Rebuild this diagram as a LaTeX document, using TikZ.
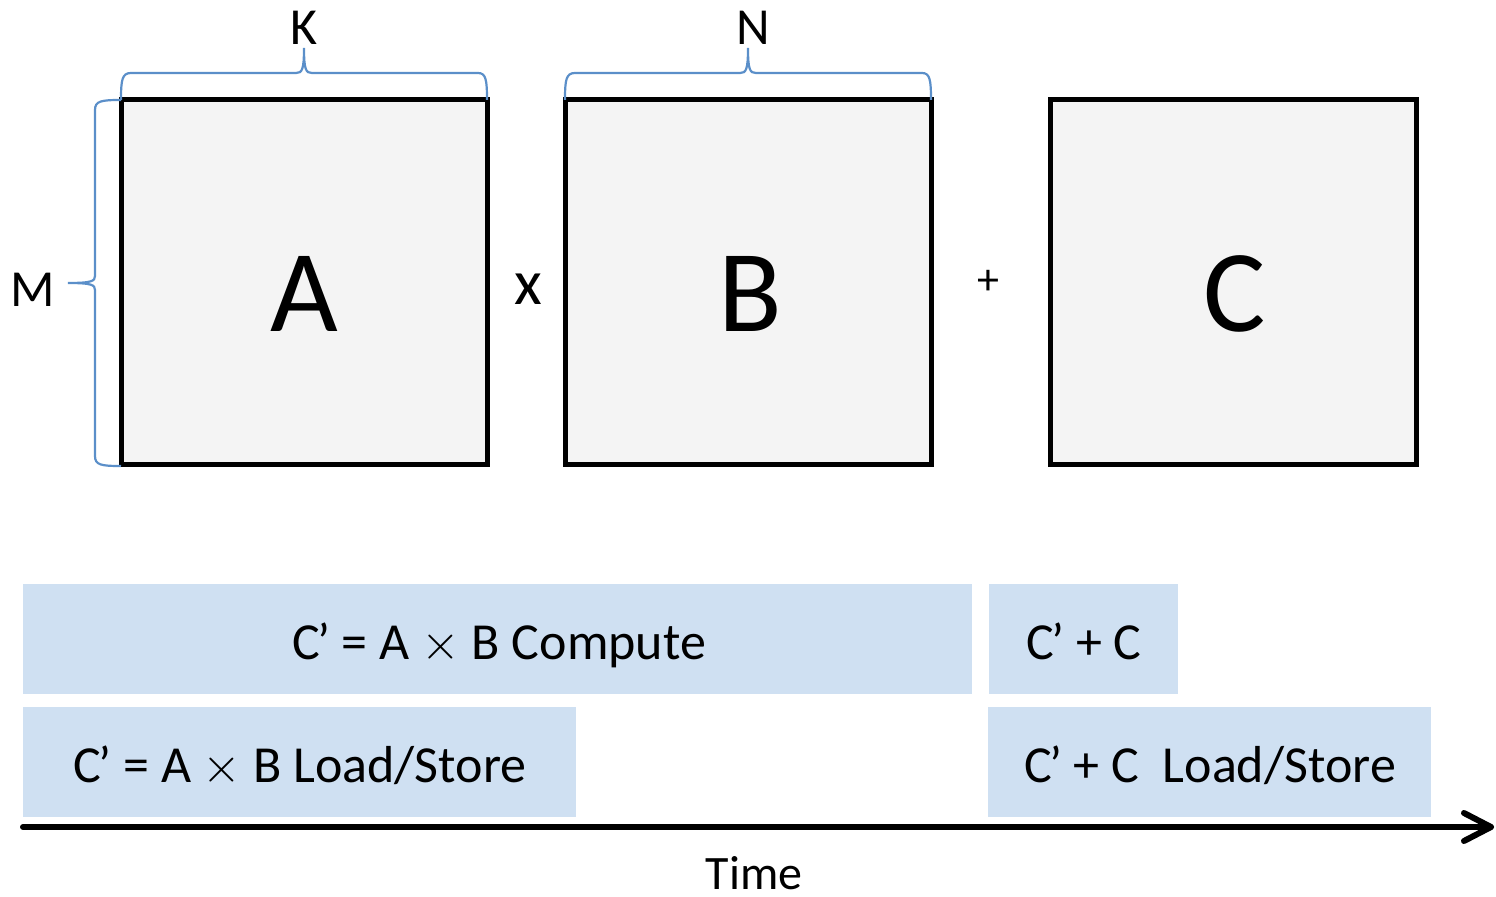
\documentclass[tikz,border=0pt]{standalone}
\usepackage{fontspec}
\setmainfont{Carlito}
\usetikzlibrary{arrows.meta}

\definecolor{matfill}{HTML}{F4F4F4}
\definecolor{barfill}{HTML}{CFE0F2}
\definecolor{bracecol}{HTML}{5B8FC9}

\newcommand\Cpr{C\kern-0.05em’}
\newcommand\mtimes{\ensuremath{\times}}

\tikzset{
  matrixbox/.style={draw=black, line width=2.5pt, fill=matfill, rectangle,
    minimum width=183pt, minimum height=182.5pt, inner sep=0pt, anchor=center},
  bigletter/.style={font=\fontsize{58.5}{60}\selectfont, inner sep=0pt, anchor=base},
  dimlabel/.style={font=\fontsize{26}{28}\selectfont, inner sep=0pt, anchor=base},
  opsign/.style={inner sep=0pt},
  phasebar/.style={fill=barfill, draw=none, rectangle, inner sep=0pt, anchor=north west},
  phasetext/.style={font=\fontsize{26}{28}\selectfont, inner sep=0pt, anchor=base},
  timetext/.style={font=\fontsize{24}{26}\selectfont, inner sep=0pt, anchor=base},
  bracepath/.style={draw=bracecol, line width=1.1pt},
  timeaxis/.style={line width=3pt, line cap=round, line join=round},
}

\begin{document}
\begin{tikzpicture}[x=0.5pt, y=-0.5pt]
  \useasboundingbox (0,0) rectangle (1496,897);

  % matrices
  \node[matrixbox] (A) at (304,282.5) {};
  \node[matrixbox] (B) at (748,282.5) {};
  \node[matrixbox] (C) at (1233,282.5) {};
  \node[bigletter] (Aname) at (304,332) {A};
  \node[bigletter] (Bname) at (750,332) {B};
  \node[bigletter] (Cname) at (1235,332) {C};

  % operators
  \node[opsign, font=\fontsize{32}{34}\selectfont, anchor=base] (times) at (528,305) {x};
  \node[opsign, font=\fontsize{22}{24}\selectfont] (plus) at (988,282) {+};

  % dimension braces
  \draw[bracepath] (121,100) .. controls (121,80) and (122,73) .. (131,73)
     -- (296,73) .. controls (302,73) and (304,70) .. (304,48)
     .. controls (304,70) and (306,73) .. (312,73)
     -- (478,73) .. controls (486,73) and (487,80) .. (487,100);
  \draw[bracepath] (565,100) .. controls (565,80) and (566,73) .. (575,73)
     -- (740,73) .. controls (746,73) and (748,70) .. (748,48)
     .. controls (748,70) and (750,73) .. (756,73)
     -- (922,73) .. controls (930,73) and (931,80) .. (931,100);
  \draw[bracepath] (121,100) .. controls (101,100) and (95,101) .. (95,110)
     -- (95,276) .. controls (95,281) and (92,283) .. (68,283)
     .. controls (92,283) and (95,285) .. (95,290)
     -- (95,456) .. controls (95,465) and (101,466) .. (121,466);
  \node[dimlabel] (K) at (304,45) {K};
  \node[dimlabel] (N) at (753,45) {N};
  \node[dimlabel] (M) at (33,307) {M};

  % timeline phases
  \node[phasebar, minimum width=474.5pt, minimum height=55pt] (mulc) at (23,584) {};
  \node[phasebar, minimum width=94.5pt, minimum height=55pt] (addc) at (989,584) {};
  \node[phasebar, minimum width=276.5pt, minimum height=55pt] (mulls) at (23,707) {};
  \node[phasebar, minimum width=221.5pt, minimum height=55pt] (addls) at (988,707) {};

  \node[phasetext] (mulctext) at (499,660) {\Cpr{} = A \mtimes{} B Compute};
  \node[phasetext] (addctext) at (1084,660) {\Cpr{} + C};
  \node[phasetext] (mullstext) at (300,783) {\Cpr{} = A \mtimes{} B Load/Store};
  \node[phasetext] (addlstext) at (1210,783) {\Cpr{} + C\ \ Load/Store};

  % time axis
  \coordinate (tstart) at (23,827);
  \coordinate (tend) at (1491,827);
  \draw[timeaxis] (tstart) -- (tend);
  \draw[timeaxis] (tend) ++(-27,-14) -- (tend) -- ++(-27,14);
  \node[timetext] (time) at (754,890) {Time};
\end{tikzpicture}
\end{document}
